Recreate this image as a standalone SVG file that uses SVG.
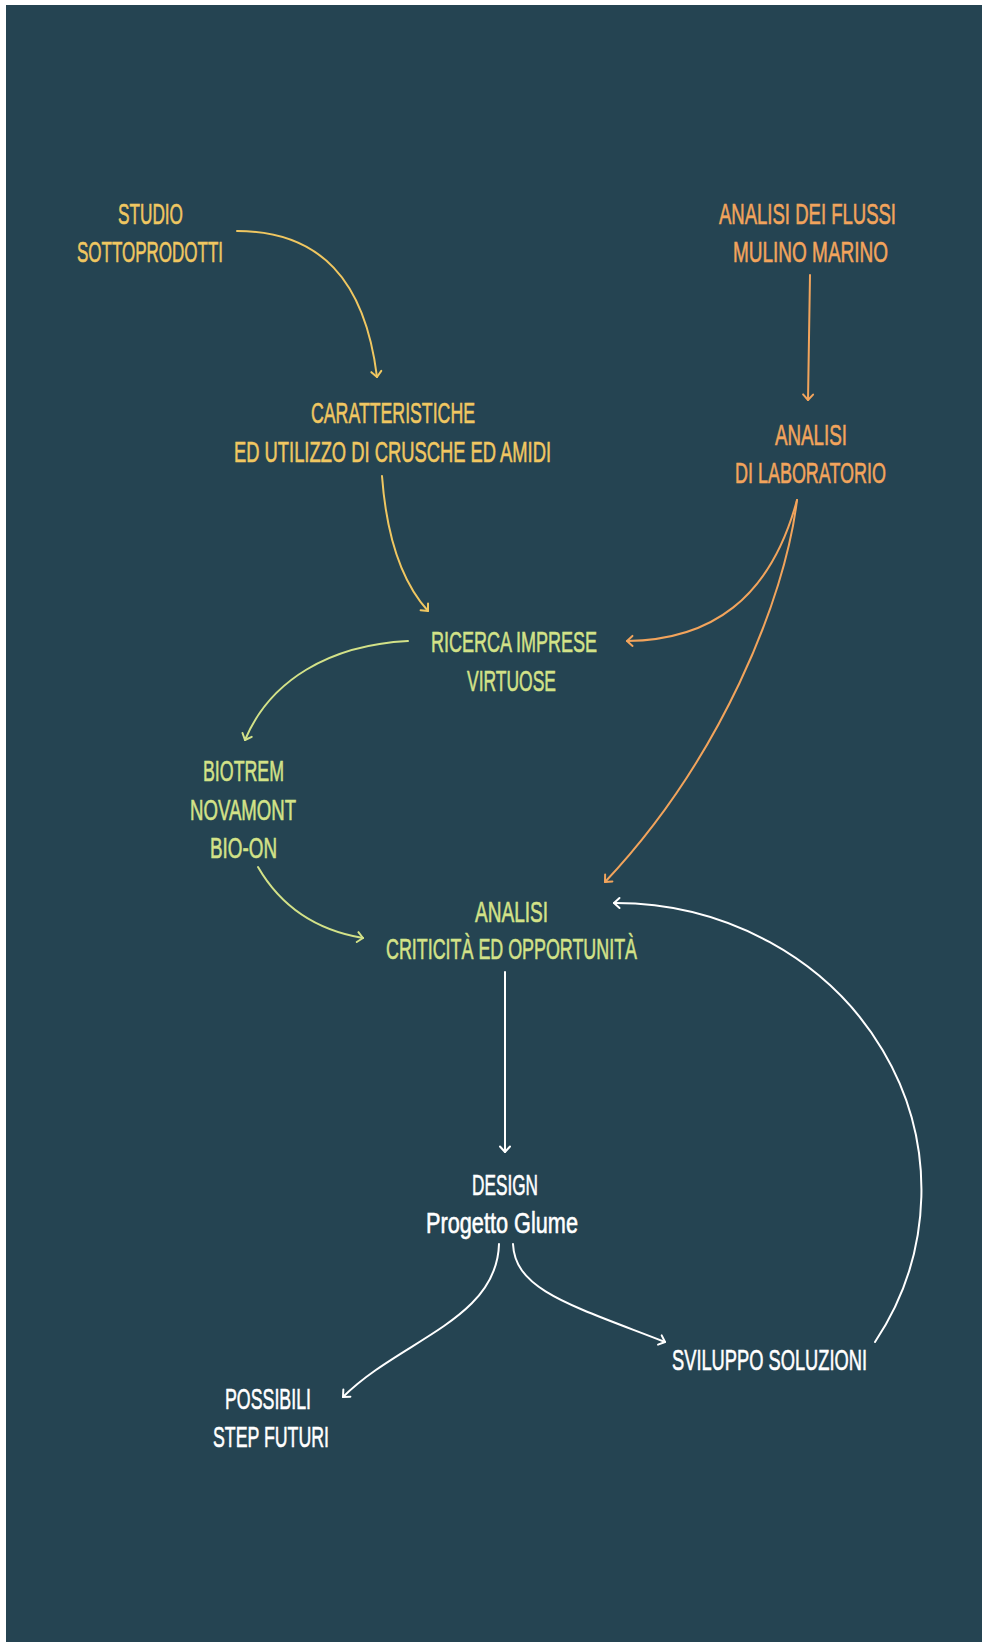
<svg xmlns="http://www.w3.org/2000/svg" width="982" height="1642" viewBox="0 0 982 1642">
<style>
text{font-family:"Liberation Sans","DejaVu Sans",sans-serif;font-size:29.5px;text-anchor:middle;stroke-width:0.6px}
.y{fill:#F0C761;stroke:#F0C761}.o{fill:#F2A45C;stroke:#F2A45C}.g{fill:#D3E288;stroke:#D3E288}.w{fill:#FFFFFF;stroke:#FFFFFF}
.c{fill:none;stroke-width:2;stroke-linecap:round}
.cy{stroke:#F0C761}.co{stroke:#F2A45C}.cg{stroke:#D3E288}.cw{stroke:#FFFFFF}
</style>
<defs>
<marker id="ay" markerUnits="userSpaceOnUse" markerWidth="14" markerHeight="14" viewBox="-8 -7 10 14" refX="0" refY="0" orient="auto"><path d="M-5.5,-5 L0,0 L-5.5,5" fill="none" stroke="#F0C761" stroke-width="2" stroke-linecap="round" stroke-linejoin="round"/></marker>
<marker id="ao" markerUnits="userSpaceOnUse" markerWidth="14" markerHeight="14" viewBox="-8 -7 10 14" refX="0" refY="0" orient="auto"><path d="M-5.5,-5 L0,0 L-5.5,5" fill="none" stroke="#F2A45C" stroke-width="2" stroke-linecap="round" stroke-linejoin="round"/></marker>
<marker id="ag" markerUnits="userSpaceOnUse" markerWidth="14" markerHeight="14" viewBox="-8 -7 10 14" refX="0" refY="0" orient="auto"><path d="M-5.5,-5 L0,0 L-5.5,5" fill="none" stroke="#D3E288" stroke-width="2" stroke-linecap="round" stroke-linejoin="round"/></marker>
<marker id="aw" markerUnits="userSpaceOnUse" markerWidth="14" markerHeight="14" viewBox="-8 -7 10 14" refX="0" refY="0" orient="auto"><path d="M-5.5,-5 L0,0 L-5.5,5" fill="none" stroke="#FFFFFF" stroke-width="2" stroke-linecap="round" stroke-linejoin="round"/></marker>
</defs>
<rect x="0" y="0" width="982" height="1642" fill="#FFFFFF"/>
<rect x="6" y="5" width="976" height="1637" fill="#254452"/>

<g id="connectors">
<path class="c cy" d="M237,231 C320,231 365,280 377,377" marker-end="url(#ay)"/>
<path class="c cy" d="M382,476 C386,530 400,580 428,611" marker-end="url(#ay)"/>
<path class="c co" d="M810,275 L808,400" marker-end="url(#ao)"/>
<path class="c co" d="M797,500 C770,600 710,640 627,641" marker-end="url(#ao)"/>
<path class="c co" d="M797,500 C785,600 720,760 605,882" marker-end="url(#ao)"/>
<path class="c cg" d="M408,641 C330,645 270,680 245,740" marker-end="url(#ag)"/>
<path class="c cg" d="M258,867 C280,905 315,930 363,938" marker-end="url(#ag)"/>
<path class="c cw" d="M505,972 L505,1152" marker-end="url(#aw)"/>
<path class="c cw" d="M499,1244 C497,1320 400,1340 343,1397" marker-end="url(#aw)"/>
<path class="c cw" d="M513,1244 C515,1290 570,1305 665,1342" marker-end="url(#aw)"/>
<path class="c cw" d="M875,1342 A306,287 0 0 0 614,903" marker-end="url(#aw)"/>
</g>

<g id="studio-sottoprodotti" class="y">
<text x="150.5" y="224" textLength="65" lengthAdjust="spacingAndGlyphs">STUDIO</text>
<text x="150" y="262" textLength="146" lengthAdjust="spacingAndGlyphs">SOTTOPRODOTTI</text>
</g>
<g id="analisi-flussi" class="o">
<text x="807.5" y="224" textLength="177" lengthAdjust="spacingAndGlyphs">ANALISI DEI FLUSSI</text>
<text x="810.5" y="262" textLength="155" lengthAdjust="spacingAndGlyphs">MULINO MARINO</text>
</g>
<g id="caratteristiche" class="y">
<text x="393" y="423" textLength="164" lengthAdjust="spacingAndGlyphs">CARATTERISTICHE</text>
<text x="392.5" y="462" textLength="317" lengthAdjust="spacingAndGlyphs">ED UTILIZZO DI CRUSCHE ED AMIDI</text>
</g>
<g id="analisi-laboratorio" class="o">
<text x="811" y="445" textLength="72" lengthAdjust="spacingAndGlyphs">ANALISI</text>
<text x="810.5" y="483" textLength="151" lengthAdjust="spacingAndGlyphs">DI LABORATORIO</text>
</g>
<g id="ricerca-imprese" class="g">
<text x="514" y="652" textLength="166" lengthAdjust="spacingAndGlyphs">RICERCA IMPRESE</text>
<text x="511.5" y="691" textLength="89" lengthAdjust="spacingAndGlyphs">VIRTUOSE</text>
</g>
<g id="imprese" class="g">
<text x="243.5" y="781" textLength="81" lengthAdjust="spacingAndGlyphs">BIOTREM</text>
<text x="243" y="820" textLength="106" lengthAdjust="spacingAndGlyphs">NOVAMONT</text>
<text x="243.5" y="858" textLength="67" lengthAdjust="spacingAndGlyphs">BIO-ON</text>
</g>
<g id="analisi-criticita" class="g">
<text x="511.5" y="922" textLength="73" lengthAdjust="spacingAndGlyphs">ANALISI</text>
<text x="511.5" y="959" textLength="251" lengthAdjust="spacingAndGlyphs">CRITICITÀ ED OPPORTUNITÀ</text>
</g>
<g id="design" class="w">
<text x="505" y="1195" textLength="66" lengthAdjust="spacingAndGlyphs">DESIGN</text>
<text x="502" y="1233" textLength="152" lengthAdjust="spacingAndGlyphs">Progetto Glume</text>
</g>
<g id="possibili-step" class="w">
<text x="268" y="1409" textLength="86" lengthAdjust="spacingAndGlyphs">POSSIBILI</text>
<text x="271" y="1447" textLength="116" lengthAdjust="spacingAndGlyphs">STEP FUTURI</text>
</g>
<g id="sviluppo-soluzioni" class="w">
<text x="769.5" y="1370" textLength="195" lengthAdjust="spacingAndGlyphs">SVILUPPO SOLUZIONI</text>
</g>
</svg>
